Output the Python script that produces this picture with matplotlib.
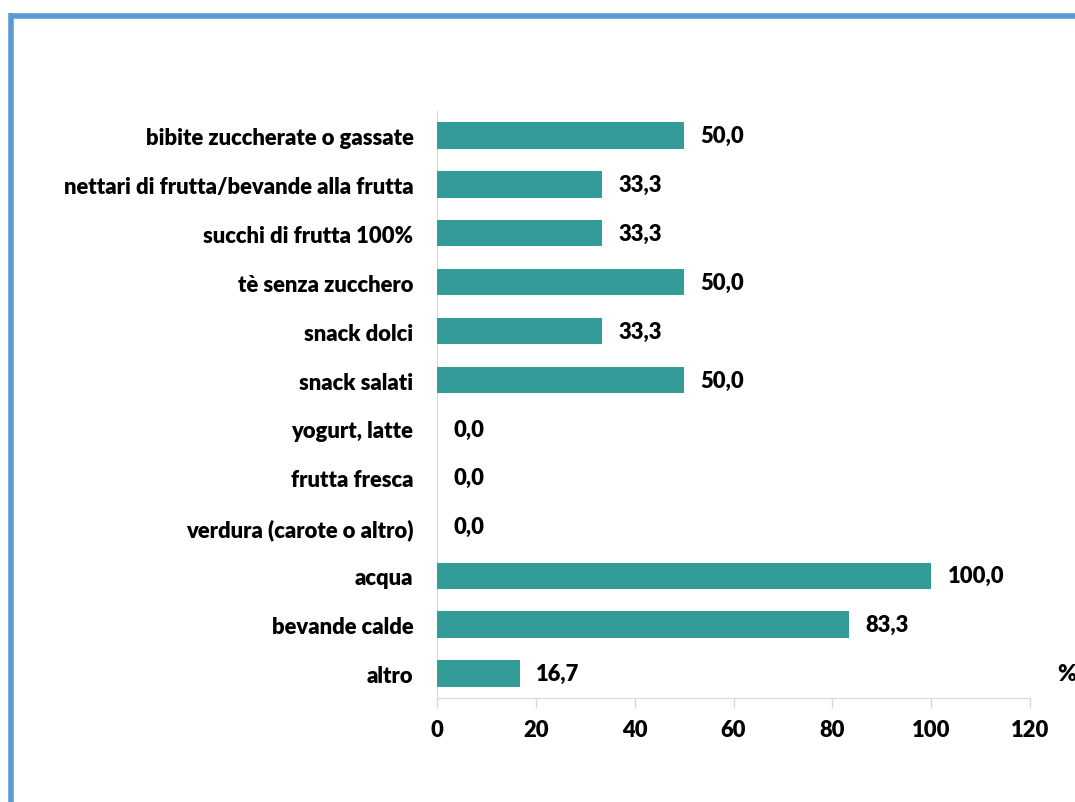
import matplotlib
matplotlib.use("Agg")
import matplotlib.pyplot as plt
from matplotlib.lines import Line2D

categories = ["bibite zuccherate o gassate", "nettari di frutta/bevande alla frutta",
              "succhi di frutta 100%", "tè senza zucchero", "snack dolci", "snack salati",
              "yogurt, latte", "frutta fresca", "verdura (carote o altro)", "acqua",
              "bevande calde", "altro"]
values = [50.0, 33.3, 33.3, 50.0, 33.3, 50.0, 0.0, 0.0, 0.0, 100.0, 83.3, 16.7]
xticks = [0, 20, 40, 60, 80, 100, 120]

plt.rcParams['font.family'] = ['Lato', 'DejaVu Sans']
FS = 15.8
FW = 'heavy'

fig = plt.figure(figsize=(10.75, 8.03), dpi=100)
ax = fig.add_axes([437/1075, 1-699/803, (1030-437)/1075, (699-112)/803])

ypos = list(range(len(categories)))
ax.barh(ypos, values, height=0.54, color="#339C99", zorder=3)
ax.set_ylim(len(categories)-0.5, -0.5)
ax.set_xlim(0, 120)
ax.set_xticks(xticks)
ax.set_xticklabels([str(t) for t in xticks], fontsize=FS, fontweight=FW)
ax.set_yticks(ypos)
ax.set_yticklabels(categories, fontsize=FS, fontweight=FW)
ax.tick_params(axis='y', length=0, pad=17)
ax.tick_params(axis='x', length=7, color="#D9D9D9", width=1, pad=8)
for s in ['top', 'right']:
    ax.spines[s].set_visible(False)
ax.spines['left'].set_color("#D9D9D9")
ax.spines['bottom'].set_color("#D9D9D9")

for y, v in zip(ypos, values):
    ax.annotate(f"{v:.1f}".replace('.', ','), xy=(v, y), xytext=(12, 0),
                textcoords='offset points', va='center', ha='left',
                fontsize=FS, fontweight=FW)

fig.text(1067/1075, 1-675/803, "%", fontsize=16.5, fontweight=FW, ha='center', va='center')

# blue border (top and left)
fig.add_artist(Line2D([10.5/1075, 10.5/1075], [0, 1-14/803], transform=fig.transFigure,
                      color="#5B9BD5", linewidth=4, solid_capstyle='butt'))
fig.add_artist(Line2D([8.5/1075, 1], [1-16.5/803, 1-16.5/803], transform=fig.transFigure,
                      color="#5B9BD5", linewidth=4, solid_capstyle='butt'))

fig.savefig("out.png", dpi=100)
